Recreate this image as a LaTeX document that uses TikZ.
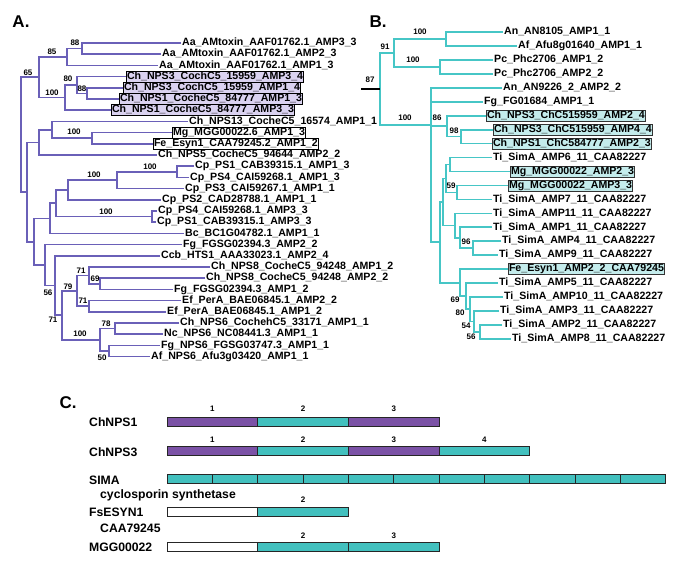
\documentclass[tikz,border=0pt]{standalone}
\usepackage{fontspec}
\setmainfont{Liberation Sans}
\usetikzlibrary{positioning, calc}

\definecolor{treeblue}{RGB}{106,96,184}
\definecolor{treeteal}{RGB}{70,198,198}
\definecolor{lilac}{RGB}{218,210,240}
\definecolor{paleteal}{RGB}{196,236,236}
\definecolor{dompurple}{RGB}{123,82,166}
\definecolor{domteal}{RGB}{66,192,190}

\newcommand{\leaffont}{\fontsize{10.6}{12}\selectfont\bfseries}
\newcommand{\bootfont}{\fontsize{8}{9}\selectfont\bfseries}
\newcommand{\panelfont}{\fontsize{17}{19}\selectfont\bfseries}
\newcommand{\domfont}{\fontsize{12.2}{14}\selectfont\bfseries}

\tikzset{
  leaf/.style={anchor=west, inner sep=1pt, font=\leaffont, text height=7.6pt, text depth=2.2pt},
  boxA/.style={leaf, draw=black, fill=lilac, line width=0.8pt, inner sep=0.6pt},
  boxW/.style={leaf, draw=black, fill=white, line width=0.8pt, inner sep=0.6pt},
  boxB/.style={leaf, draw=black!80, fill=paleteal, line width=0.8pt, inner sep=0.6pt},
  branchA/.style={draw=treeblue, line width=1.7pt},
  branchB/.style={draw=treeteal, line width=1.7pt},
  boot/.style={font=\bootfont, inner sep=0pt},
  dom/.style={draw=black!85, line width=0.8pt},
}

\begin{document}
\begin{tikzpicture}[x=1pt, y=-1pt]
  \useasboundingbox (0,0) rectangle (685,568);

  % Panel letters
  \node[font=\panelfont, inner sep=0pt] (labA) at (21,22) {A.};
  \node[font=\panelfont, inner sep=0pt] (labB) at (378,22) {B.};
  \node[font=\panelfont, inner sep=0pt] (labC) at (68,403) {C.};

  % Tree A leaves
  \foreach \i/\x/\s/\t in {
    1/181/leaf/{Aa\_AMtoxin\_AAF01762.1\_AMP3\_3},
    2/161/leaf/{Aa\_AMtoxin\_AAF01762.1\_AMP2\_3},
    3/158/leaf/{Aa\_AMtoxin\_AAF01762.1\_AMP1\_3},
    4/126/boxA/{Ch\_NPS3\_CochC5\_15959\_AMP3\_4},
    5/123/boxA/{Ch\_NPS3\_CochC5\_15959\_AMP1\_4},
    6/119/boxA/{Ch\_NPS1\_CocheC5\_84777\_AMP1\_3},
    7/111/boxA/{Ch\_NPS1\_CocheC5\_84777\_AMP3\_3},
    8/188/leaf/{Ch\_NPS13\_CocheC5\_16574\_AMP1\_1},
    9/172/boxW/{Mg\_MGG00022.6\_AMP1\_3},
    10/153/boxW/{Fe\_Esyn1\_CAA79245.2\_AMP1\_2},
    11/157/leaf/{Ch\_NPS5\_CocheC5\_94644\_AMP2\_2},
    12/194/leaf/{Cp\_PS1\_CAB39315.1\_AMP1\_3},
    13/189/leaf/{Cp\_PS4\_CAI59268.1\_AMP1\_3},
    14/184/leaf/{Cp\_PS3\_CAI59267.1\_AMP1\_1},
    15/161/leaf/{Cp\_PS2\_CAD28788.1\_AMP1\_1},
    16/157/leaf/{Cp\_PS4\_CAI59268.1\_AMP3\_3},
    17/156/leaf/{Cp\_PS1\_CAB39315.1\_AMP3\_3},
    18/184/leaf/{Bc\_BC1G04782.1\_AMP1\_1},
    19/182/leaf/{Fg\_FGSG02394.3\_AMP2\_2},
    20/160/leaf/{Ccb\_HTS1\_AAA33023.1\_AMP2\_4},
    21/210/leaf/{Ch\_NPS8\_CocheC5\_94248\_AMP1\_2},
    22/205/leaf/{Ch\_NPS8\_CocheC5\_94248\_AMP2\_2},
    23/173/leaf/{Fg\_FGSG02394.3\_AMP1\_2},
    24/181/leaf/{Ef\_PerA\_BAE06845.1\_AMP2\_2},
    25/166/leaf/{Ef\_PerA\_BAE06845.1\_AMP1\_2},
    26/179/leaf/{Ch\_NPS6\_CochehC5\_33171\_AMP1\_1},
    27/163/leaf/{Nc\_NPS6\_NC08441.3\_AMP1\_1},
    28/160/leaf/{Fg\_NPS6\_FGSG03747.3\_AMP1\_1},
    29/150/leaf/{Af\_NPS6\_Afu3g03420\_AMP1\_1}}
    \node[\s] (a\i) at (\x,{43+11.2*(\i-1)}) {\t};

  % Tree A inner nodes
  \coordinate (n88) at (82,48.6);
  \coordinate (n85) at (67,57);
  \coordinate (n88b) at (87,93.4);
  \coordinate (n80) at (77,85);
  \coordinate (n100a) at (65,97.6);
  \coordinate (n65) at (39,77.3);
  \coordinate (n100b) at (92,138.2);
  \coordinate (nMg) at (52,129.8);
  \coordinate (nNPS5) at (39,142.4);
  \coordinate (n100c) at (177,171.8);
  \coordinate (n100d) at (117,180.2);
  \coordinate (nCp2) at (68,190);
  \coordinate (n100e) at (152,216.6);
  \coordinate (nCp) at (56,203.3);
  \coordinate (nBc) at (50,218.4);
  \coordinate (n69) at (100,283.8);
  \coordinate (n71a) at (89,275.4);
  \coordinate (n71b) at (89,306.2);
  \coordinate (n79a) at (77,290.8);
  \coordinate (n78) at (115,328.6);
  \coordinate (n50) at (109,351);
  \coordinate (n100f) at (100,339.8);
  \coordinate (n79) at (62,315.3);
  \coordinate (n71) at (55,285.6);
  \coordinate (n56) at (45,265.1);
  \coordinate (nC2) at (34,241.8);
  \coordinate (nC1) at (27,192.1);
  \coordinate (nRoot) at (21,134.7);

  % Tree A branches
  \draw[branchA] (a1.west) -| (n88) |- (a2.west);
  \draw[branchA] (n88) -| (n85) |- (a3.west);
  \draw[branchA] (a5.west) -| (n88b) |- (a6.west);
  \draw[branchA] (a4.west) -| (n80) |- (n88b);
  \draw[branchA] (n80) -| (n100a) |- (a7.west);
  \draw[branchA] (n85) -| (n65) |- (n100a);
  \draw[branchA] (a9.west) -| (n100b) |- (a10.west);
  \draw[branchA] (a8.west) -| (nMg) |- (n100b);
  \draw[branchA] (nMg) -| (nNPS5) |- (a11.west);
  \draw[branchA] (a12.west) -| (n100c) |- (a13.west);
  \draw[branchA] (n100c) -| (n100d) |- (a14.west);
  \draw[branchA] (n100d) -| (nCp2) |- (a15.west);
  \draw[branchA] (a16.west) -| (n100e) |- (a17.west);
  \draw[branchA] (nCp2) -| (nCp) |- (n100e);
  \draw[branchA] (nCp) -| (nBc) |- (a18.west);
  \draw[branchA] (a22.west) -| (n69) |- (a23.west);
  \draw[branchA] (a21.west) -| (n71a) |- (n69);
  \draw[branchA] (a24.west) -| (n71b) |- (a25.west);
  \draw[branchA] (n71a) -| (n79a) |- (n71b);
  \draw[branchA] (a26.west) -| (n78) |- (a27.west);
  \draw[branchA] (a28.west) -| (n50) |- (a29.west);
  \draw[branchA] (n78) -| (n100f) |- (n50);
  \draw[branchA] (n79a) -| (n79) |- (n100f);
  \draw[branchA] (a20.west) -| (n71) |- (n79);
  \draw[branchA] (a19.west) -| (n56) |- (n71);
  \draw[branchA] (nBc) -| (nC2) |- (n56);
  \draw[branchA] (nNPS5) -| (nC1) |- (nC2);
  \draw[branchA] (n65) -| (nRoot) |- (nC1);

  % Tree A bootstrap values
  \foreach \x/\y/\t [count=\k] in {75/43/88, 52/52/85, 28/73/65, 68/79/80, 82/89/88,
      52/93/100, 74/132/100, 150/167/100, 94/175/100, 106/212/100, 81/271/71,
      95/279/69, 68/287/79, 48/293/56, 83/301/71, 53/320/71, 106/324/78,
      80/334/100, 102/358/50}
    \node[boot] (bsA\k) at (\x,\y) {\t};

  % Tree B leaves
  \foreach \i/\x/\s/\t in {
    1/503/leaf/{An\_AN8105\_AMP1\_1},
    2/517/leaf/{Af\_Afu8g01640\_AMP1\_1},
    3/493/leaf/{Pc\_Phc2706\_AMP1\_2},
    4/493/leaf/{Pc\_Phc2706\_AMP2\_2},
    5/502/leaf/{An\_AN9226\_2\_AMP2\_2},
    6/483/leaf/{Fg\_FG01684\_AMP1\_1},
    7/486/boxB/{Ch\_NPS3\_ChC515959\_AMP2\_4},
    8/493/boxB/{Ch\_NPS3\_ChC515959\_AMP4\_4},
    9/492/boxB/{Ch\_NPS1\_ChC584777\_AMP2\_3},
    10/492/leaf/{Ti\_SimA\_AMP6\_11\_CAA82227},
    11/510/boxB/{Mg\_MGG00022\_AMP2\_3},
    12/508/boxB/{Mg\_MGG00022\_AMP3\_3},
    13/492/leaf/{Ti\_SimA\_AMP7\_11\_CAA82227},
    14/492/leaf/{Ti\_SimA\_AMP11\_11\_CAA82227},
    15/492/leaf/{Ti\_SimA\_AMP1\_11\_CAA82227},
    16/501/leaf/{Ti\_SimA\_AMP4\_11\_CAA82227},
    17/498/leaf/{Ti\_SimA\_AMP9\_11\_CAA82227},
    18/508/boxB/{Fe\_Esyn1\_AMP2\_2\_CAA79245},
    19/498/leaf/{Ti\_SimA\_AMP5\_11\_CAA82227},
    20/503/leaf/{Ti\_SimA\_AMP10\_11\_CAA82227},
    21/499/leaf/{Ti\_SimA\_AMP3\_11\_CAA82227},
    22/502/leaf/{Ti\_SimA\_AMP2\_11\_CAA82227},
    23/511/leaf/{Ti\_SimA\_AMP8\_11\_CAA82227}}
    \node[\s] (b\i) at (\x,{32+13.95*(\i-1)}) {\t};

  % Tree B inner nodes
  \coordinate (m100a) at (446,39);
  \coordinate (m100b) at (440,66.9);
  \coordinate (m91) at (394,52.9);
  \coordinate (m98) at (461,136.6);
  \coordinate (m86) at (447,126.2);
  \coordinate (mT1) at (450,164.5);
  \coordinate (m59) at (457,192.4);
  \coordinate (mT2) at (446,178.5);
  \coordinate (m96) at (473,248.2);
  \coordinate (mA) at (460,237.8);
  \coordinate (mB) at (455,225.6);
  \coordinate (mP) at (443,202);
  \coordinate (m56) at (480,331.9);
  \coordinate (m54) at (474,321.5);
  \coordinate (m80) at (470,309.3);
  \coordinate (m69) at (466,296.2);
  \coordinate (mFe) at (460,282.7);
  \coordinate (mQ) at (440,242.3);
  \coordinate (mX) at (431,125);
  \coordinate (mRoot) at (380,89);
  \coordinate (mStub) at (361,89);

  % Tree B branches
  \draw[branchB] (b1.west) -| (m100a) |- (b2.west);
  \draw[branchB] (b3.west) -| (m100b) |- (b4.west);
  \draw[branchB] (m100a) -| (m91) |- (m100b);
  \draw[branchB] (b8.west) -| (m98) |- (b9.west);
  \draw[branchB] (b7.west) -| (m86) |- (m98);
  \draw[branchB] (b10.west) -| (mT1) |- (b11.west);
  \draw[branchB] (b12.west) -| (m59) |- (b13.west);
  \draw[branchB] (mT1) -| (mT2) |- (m59);
  \draw[branchB] (b16.west) -| (m96) |- (b17.west);
  \draw[branchB] (b15.west) -| (mA) |- (m96);
  \draw[branchB] (b14.west) -| (mB) |- (mA);
  \draw[branchB] (mT2) -| (mP) |- (mB);
  \draw[branchB] (b22.west) -| (m56) |- (b23.west);
  \draw[branchB] (b21.west) -| (m54) |- (m56);
  \draw[branchB] (b20.west) -| (m80) |- (m54);
  \draw[branchB] (b19.west) -| (m69) |- (m80);
  \draw[branchB] (b18.west) -| (mFe) |- (m69);
  \draw[branchB] (mP) -| (mQ) |- (mFe);
  \draw[branchB] (b5.west) -| (mX) |- (mQ);
  \draw[branchB] (mX |- b6.west) -- (b6.west);
  \draw[branchB] (mX |- m86) -- (m86);
  \draw[branchB] (m91) -| (mRoot) |- (mX);
  \draw[black, line width=1.7pt] (mStub) -- (mRoot);

  % Tree B bootstrap values
  \foreach \x/\y/\t [count=\k] in {420/32/100, 413/60/100, 385/47/91, 370/80/87,
      405/118/100, 437/118/86, 454/131/98, 451/186/59, 466/242/96, 455/300/69,
      460/313/80, 466/326/54, 471/337/56}
    \node[boot] (bsB\k) at (\x,\y) {\t};

  % Domain architectures
  \node[font=\domfont, anchor=west, inner sep=0pt] (nps1) at (89,422) {ChNPS1};
  \foreach \c [count=\k from 0] in {dompurple,domteal,dompurple}
    \draw[dom, fill=\c] ({167+90.7*\k},417) rectangle +(90.7,9);
  \foreach \k in {1,2,3}
    \node[boot] (nps1d\k) at ({167+90.7*(\k-0.5)},409) {\k};

  \node[font=\domfont, anchor=west, inner sep=0pt] (nps3) at (89,452) {ChNPS3};
  \foreach \c [count=\k from 0] in {dompurple,domteal,dompurple,domteal}
    \draw[dom, fill=\c] ({167+90.7*\k},446.5) rectangle +(90.7,9);
  \foreach \k in {1,2,3,4}
    \node[boot] (nps3d\k) at ({167+90.7*(\k-0.5)},440) {\k};

  \node[font=\domfont, anchor=west, inner sep=0pt] (sima) at (89,480) {SIMA};
  \node[font=\domfont, anchor=west, inner sep=0pt] (cyclo) at (100,495) {cyclosporin synthetase};
  \foreach \k in {0,...,10}
    \draw[dom, fill=domteal] ({167+45.35*\k},474) rectangle +(45.35,9);

  \node[font=\domfont, anchor=west, inner sep=0pt] (esyn) at (89,512) {FsESYN1};
  \node[font=\domfont, anchor=west, inner sep=0pt] (caa) at (100,528) {CAA79245};
  \foreach \c [count=\k from 0] in {white,domteal}
    \draw[dom, fill=\c] ({167+90.7*\k},507) rectangle +(90.7,9);
  \node[boot] (esynd2) at ({167+90.7*1.5},500) {2};

  \node[font=\domfont, anchor=west, inner sep=0pt] (mgg) at (89,547) {MGG00022};
  \foreach \c [count=\k from 0] in {white,domteal,domteal}
    \draw[dom, fill=\c] ({167+90.7*\k},542) rectangle +(90.7,9);
  \foreach \k in {2,3}
    \node[boot] (mggd\k) at ({167+90.7*(\k-0.5)},536) {\k};
\end{tikzpicture}
\end{document}
